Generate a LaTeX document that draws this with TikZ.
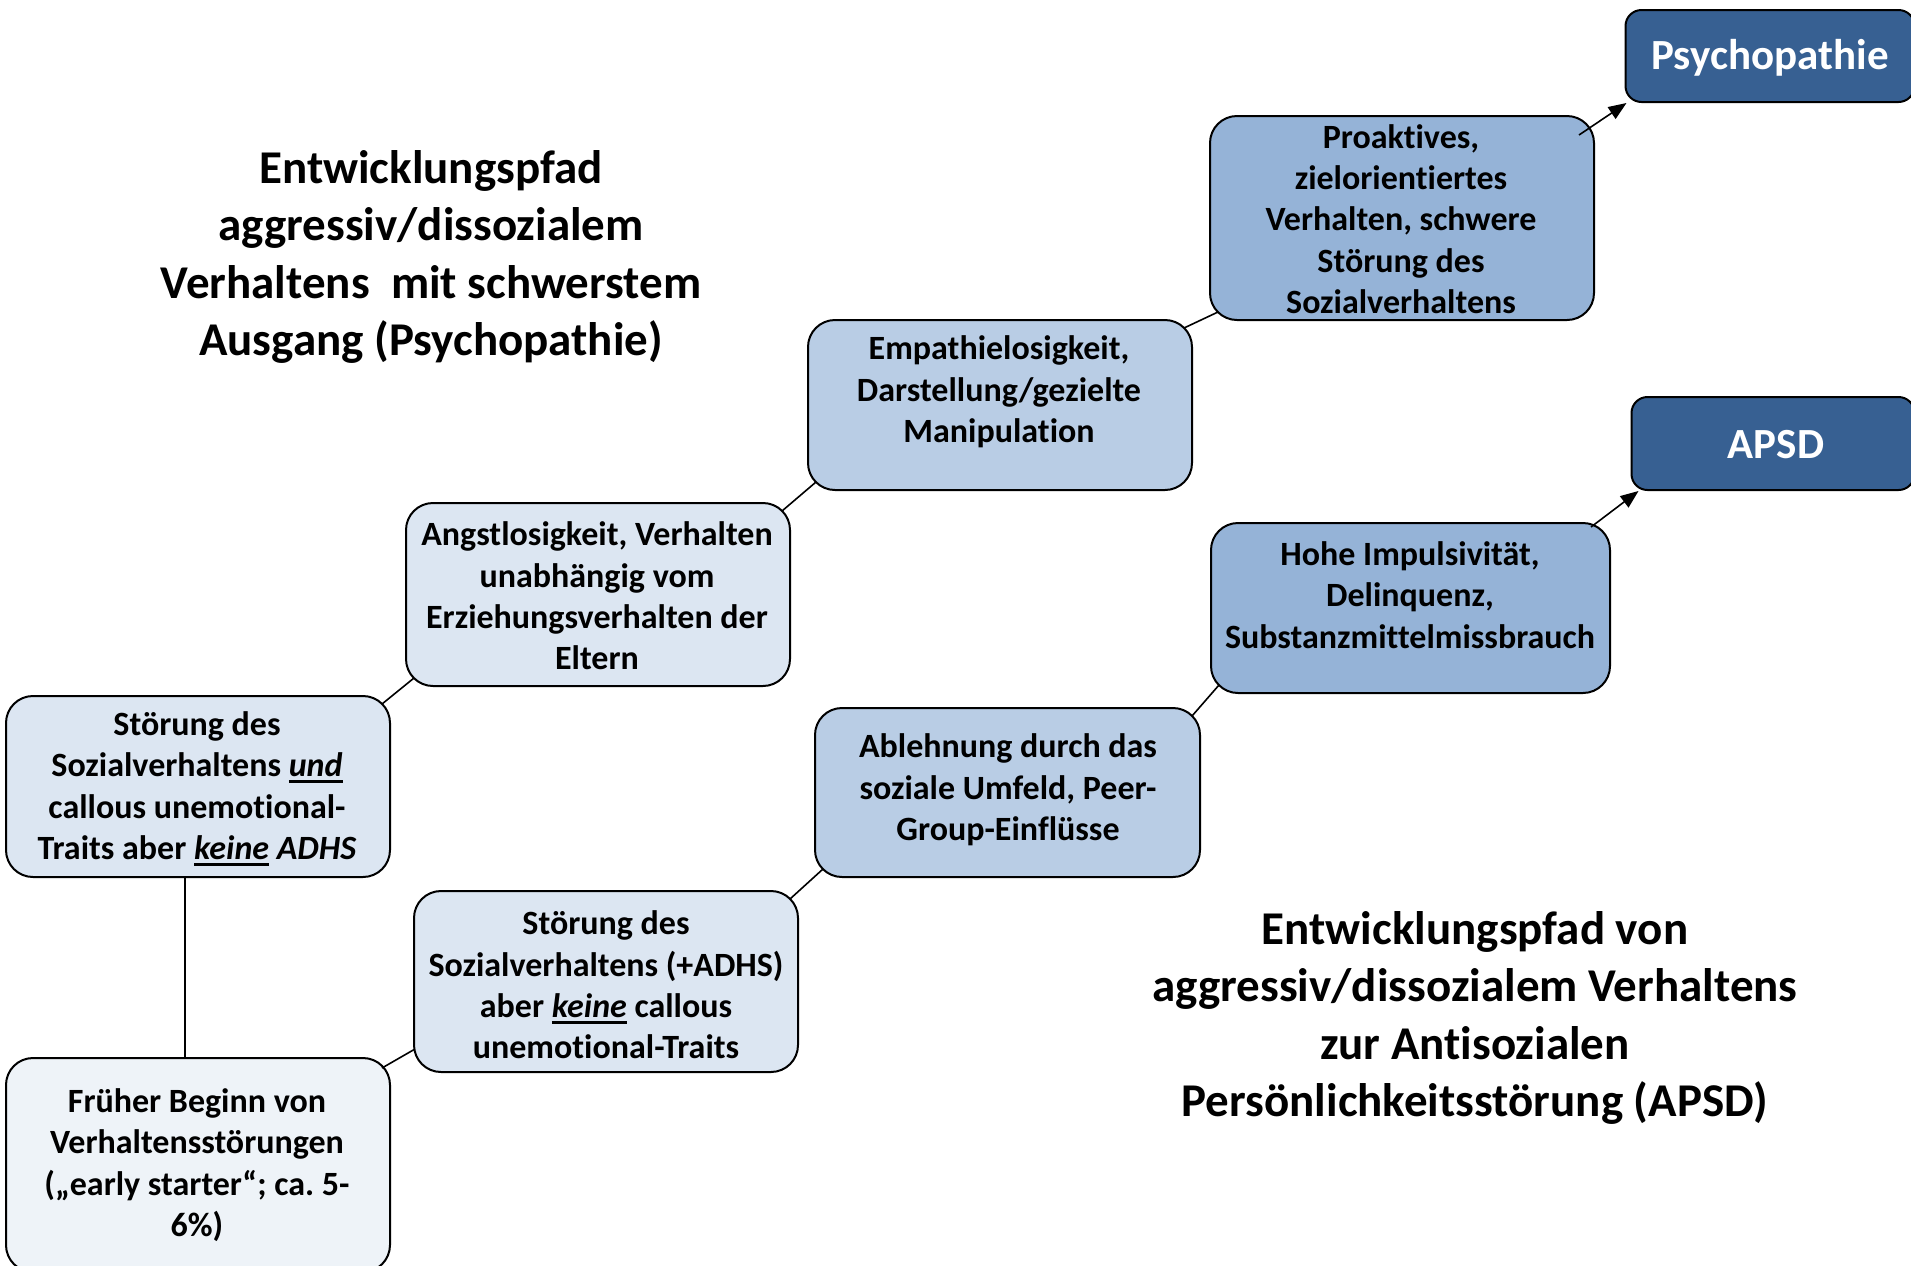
\documentclass[tikz,border=0pt]{standalone}
\usepackage{fontspec}
\setmainfont{Carlito}[Ligatures=NoCommon]
\usetikzlibrary{calc,arrows.meta}
\definecolor{paleblue}{HTML}{EEF3F8}
\definecolor{lightblue}{HTML}{DCE6F2}
\definecolor{midblue}{HTML}{B9CDE5}
\definecolor{strongblue}{HTML}{95B3D7}
\definecolor{darkblue}{HTML}{376092}
% thick underline for emphasised words
\newcommand\uln[1]{\setbox0\hbox{#1}\rlap{\rule[-3pt]{\wd0}{1.3pt}}\box0\relax}
\frenchspacing
\begin{document}
\begin{tikzpicture}[x=0.5pt,y=-0.5pt,
  stepbox/.style={draw=black,line width=1pt,rounded corners=13.5pt,inner sep=0pt},
  endbox/.style={draw=black,line width=1pt,rounded corners=8pt,inner sep=0pt,fill=darkblue},
  boxtext/.style={align=center,inner sep=0pt,font=\fontsize{17pt}{20.7pt}\selectfont\bfseries},
  endtext/.style={align=center,inner sep=0pt,text=white,font=\fontsize{21.5pt}{26pt}\selectfont\bfseries},
  titletext/.style={align=center,inner sep=0pt,font=\fontsize{23.5pt}{28.8pt}\selectfont\bfseries},
  conn/.style={draw=black,line width=0.8pt}]
\useasboundingbox (0,0) rectangle (1911,1265);
\fill[white] (0,0) rectangle (1911,1265);

% boxes
\node[stepbox,fill=paleblue,minimum width=192pt,minimum height=107pt] (fruh) at (198,1165) {};
\node[stepbox,fill=lightblue,minimum width=192pt,minimum height=90.5pt] (cu) at (198,786.5) {};
\node[stepbox,fill=lightblue,minimum width=192pt,minimum height=91.5pt] (angst) at (598,594.5) {};
\node[stepbox,fill=midblue,minimum width=192pt,minimum height=85pt] (emp) at (1000,405) {};
\node[stepbox,fill=strongblue,minimum width=192pt,minimum height=102pt] (pro) at (1402,218) {};
\node[endbox,minimum width=144.5pt,minimum height=46pt] (psy) at (1770,56) {};
\node[stepbox,fill=lightblue,minimum width=192pt,minimum height=90.5pt] (adhs) at (606,981.5) {};
\node[stepbox,fill=midblue,minimum width=192.5pt,minimum height=84.5pt] (abl) at (1007.5,792.5) {};
\node[stepbox,fill=strongblue,minimum width=199.5pt,minimum height=85pt] (hohe) at (1410.5,608) {};
\node[endbox,minimum width=141.5pt,minimum height=46.5pt] (apsd) at (1773,443.5) {};

% box texts
\node[boxtext] (fruh-t) at (197,1165) {Früher Beginn von\\Verhaltensstörungen\\(„early starter“; ca. 5-\\6\%)};
\node[boxtext] (cu-t) at (197,788.5) {Störung des\\Sozialverhaltens \uln{\textit{und}}\\callous unemotional-\\Traits aber \uln{\textit{keine}} \textit{ADHS}};
\node[boxtext] (angst-t) at (597,596) {Angstlosigkeit, Verhalten\\unabhängig vom\\Erziehungsverhalten der\\Eltern};
\node[boxtext] (emp-t) at (999,392) {Empathielosigkeit,\\Darstellung/gezielte\\Manipulation};
\node[boxtext] (pro-t) at (1401,219) {Proaktives,\\zielorientiertes\\Verhalten, schwere\\Störung des\\Sozialverhaltens};
\node[endtext] (psy-t) at (1770,58) {Psychopathie};
\node[boxtext] (adhs-t) at (606,985) {Störung des\\Sozialverhaltens (+ADHS)\\aber \uln{\textit{keine}} callous\\unemotional-Traits};
\node[boxtext] (abl-t) at (1008,790) {Ablehnung durch das\\soziale Umfeld, Peer-\\Group-Einflüsse};
\node[boxtext] (hohe-t) at (1410,595) {Hohe Impulsivität,\\Delinquenz,\\Substanzmittelmissbrauch};
\node[endtext] (apsd-t) at (1776,445) {APSD};

% titles
\node[titletext] (title-psy) at (431,257) {Entwicklungspfad\\aggressiv/dissozialem\\Verhaltens\ \ mit schwerstem\\Ausgang (Psychopathie)};
\node[titletext] (title-apsd) at (1475,1018) {Entwicklungspfad von\\aggressiv/dissozialem Verhaltens\\zur Antisozialen\\Persönlichkeitsstörung (APSD)};

% connectors
\draw[conn] ([xshift=-6.5pt]cu.south) -- ([xshift=-6.5pt]fruh.north);
\draw[conn] ($(fruh.north east)+(-4.5pt,-5.5pt)$) -- ($(adhs.south west)+(1pt,12pt)$);
\draw[conn] ($(cu.north east)+(-4.5pt,-4.5pt)$) -- ($(angst.south west)+(4.5pt,4.5pt)$);
\draw[conn] ($(angst.north east)+(-4.5pt,-4.5pt)$) -- ($(emp.south west)+(4.5pt,4.5pt)$);
\draw[conn] ($(emp.north east)+(-4.5pt,-4.5pt)$) -- ($(pro.south west)+(4.5pt,4.5pt)$);
\draw[conn] ($(adhs.north east)+(-4.5pt,-4.5pt)$) -- ($(abl.south west)+(4.5pt,4.5pt)$);
\draw[conn] ($(abl.north east)+(-4.5pt,-4.5pt)$) -- ($(hohe.south west)+(4.5pt,4.5pt)$);
\draw[conn,-{Triangle[length=9pt,width=7pt]}] ($(pro.north east)+(-8pt,-10pt)$) -- ($(psy.south west)+(1pt,0pt)$);
\draw[conn,-{Triangle[length=9pt,width=7pt]}] ($(hohe.north east)+(-10pt,-2.5pt)$) -- ($(apsd.south west)+(4pt,0pt)$);
\end{tikzpicture}
\end{document}
